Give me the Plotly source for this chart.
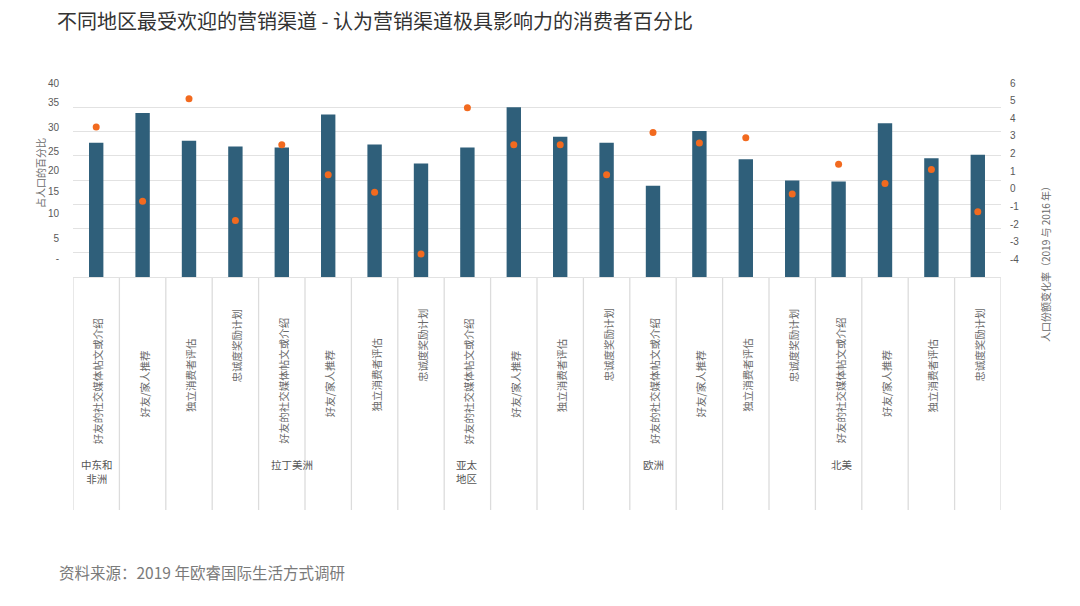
import plotly.graph_objects as go

# ---------------- data ----------------
regions = ["中东和<br>非洲", "拉丁美洲", "亚太<br>地区", "欧洲", "北美"]
channels = ["好友的社交媒体帖文或介绍", "好友/家人推荐", "独立消费者评估", "忠诚度奖励计划"]
share_pct = [27.7, 33.8, 28.1, 26.9,
             26.7, 33.5, 27.3, 23.4,
             26.7, 35.0, 28.9, 27.7,
             18.8, 30.1, 24.3, 19.9,
             19.7, 31.7, 24.5, 25.2]
change_rate = [3.5, -0.7, 5.1, -1.8,
               2.5, 0.8, -0.2, -3.7,
               4.6, 2.5, 2.5, 0.8,
               3.2, 2.6, 2.9, -0.3,
               1.4, 0.3, 1.1, -1.3]
left_tick_text = ["40", "35", "30", "25", "20", "15", "10", "5", "-"]
right_tick_vals = [-4, -3, -2, -1, 0, 1, 2, 3, 4, 5, 6]
right_tick_text = ["-4", "-3", "-2", "-1", "0", "1", "2", "3", "4", "5", "6"]

title_text = "不同地区最受欢迎的营销渠道 - 认为营销渠道极具影响力的消费者百分比"
source_text = "资料来源：2019 年欧睿国际生活方式调研"
left_title = "占人口的百分比"
right_title = "人口份额变化率（2019 与 2016 年）"

# ---------------- style ----------------
W, H = 1080, 606
ML, MR, MT, MB = 73, 79, 83, 329
PLOT_H = H - MT - MB
PLOT_W = W - ML - MR
BOTTOM = H - MB

def py(px):
    return (BOTTOM - px) / PLOT_H

def pxr(px):
    return (px - ML) / PLOT_W

left_tick_pos = [40, 36, 30.9, 25.9, 22, 17.7, 13.1, 7.9, 3.8]   # label placement (style)
label_center_px = {channels[0]: 381, channels[1]: 384, channels[2]: 375, channels[3]: 345}
region_xshift = [1, 10, 0, 0, 3]

BAR_COLOR = "#2F5F7A"
DOT_COLOR = "#F26A1F"
GRID = "#E2E2E2"
SEP = "#DCDCDC"
TICK_FONT = dict(family="Liberation Sans", size=10, color="#595959")
CJK = "Noto Sans CJK SC"

n = len(regions) * len(channels)
xs = list(range(n))
cat_labels = [c for _ in regions for c in channels]

fig = go.Figure()
fig.add_trace(go.Bar(x=xs, y=share_pct, width=0.31, marker=dict(color=BAR_COLOR, line=dict(width=0)),
                     yaxis="y", name="占人口的百分比", showlegend=False))
fig.add_trace(go.Scatter(x=xs, y=change_rate, mode="markers", yaxis="y2",
                         marker=dict(color=DOT_COLOR, size=7, line=dict(width=0)),
                         name="人口份额变化率", showlegend=False))
# invisible trace to activate label axis
fig.add_trace(go.Scatter(x=[xs[0]], y=[0], yaxis="y3", mode="markers",
                         marker=dict(opacity=0), showlegend=False, hoverinfo="skip"))

shapes = []
for i in range(n + 1):
    shapes.append(dict(type="line", xref="x", yref="paper", x0=i - 0.5, x1=i - 0.5,
                       y0=0, y1=py(510), line=dict(color=SEP, width=1.3), layer="below"))

annotations = []
for i, lab in enumerate(cat_labels):
    annotations.append(dict(x=i, xref="x", y=py(label_center_px[lab]), yref="paper",
                            text=lab, textangle=-90, showarrow=False, xshift=1,
                            xanchor="center", yanchor="middle",
                            font=dict(family=CJK, size=10.5, color="#6A6A6A")))
for r, reg in enumerate(regions):
    annotations.append(dict(x=r * len(channels), xref="x", y=py(455), yref="paper",
                            text=reg, showarrow=False, xshift=region_xshift[r],
                            xanchor="center", yanchor="top", align="center",
                            font=dict(family=CJK, size=10.5, color="#555555")))
annotations.append(dict(x=pxr(40), y=py(173), xref="paper", yref="paper", text=left_title,
                        textangle=-90, showarrow=False, xanchor="center", yanchor="middle",
                        font=dict(family=CJK, size=10, color="#6A6A6A")))
annotations.append(dict(x=pxr(1045), y=py(262), xref="paper", yref="paper", text=right_title,
                        textangle=-90, showarrow=False, xanchor="center", yanchor="middle",
                        font=dict(family=CJK, size=10, color="#6A6A6A")))
annotations.append(dict(x=pxr(57), y=py(572), xref="paper", yref="paper", text=source_text,
                        showarrow=False, xanchor="left", yanchor="middle",
                        font=dict(family=CJK, size=15.5, color="#7A7A7A")))

fig.update_layout(
    width=W, height=H,
    margin=dict(l=ML, r=MR, t=MT, b=MB, pad=0),
    paper_bgcolor="white", plot_bgcolor="white",
    title=dict(text=title_text, x=57 / W, xanchor="left", xref="container",
               y=1 - 22 / H, yanchor="middle", yref="container",
               font=dict(family=CJK, size=20, color="#333333")),
    xaxis=dict(range=[-0.5, n - 0.5], showticklabels=False, showgrid=False,
               zeroline=False, ticks="", showline=False, fixedrange=True),
    yaxis=dict(range=[0, 40], dtick=5, tick0=0, showgrid=True, gridcolor=GRID, gridwidth=1.3,
               zeroline=True, zerolinecolor=GRID, zerolinewidth=1.3,
               showticklabels=False, ticks="", showline=False),
    yaxis2=dict(range=[-5, 6], tickvals=right_tick_vals, ticktext=right_tick_text,
                overlaying="y", side="right",
                showgrid=False, zeroline=False, ticks="", showline=False,
                tickfont=TICK_FONT, ticklabelstandoff=8),
    yaxis3=dict(range=[0, 40], tickvals=left_tick_pos, ticktext=left_tick_text,
                overlaying="y", side="left", anchor="x",
                showgrid=False, zeroline=False, ticks="", showline=False,
                tickfont=TICK_FONT, ticklabelstandoff=13),
    shapes=shapes,
    annotations=annotations,
    bargap=0.5,
)

fig.write_html("out.html")
